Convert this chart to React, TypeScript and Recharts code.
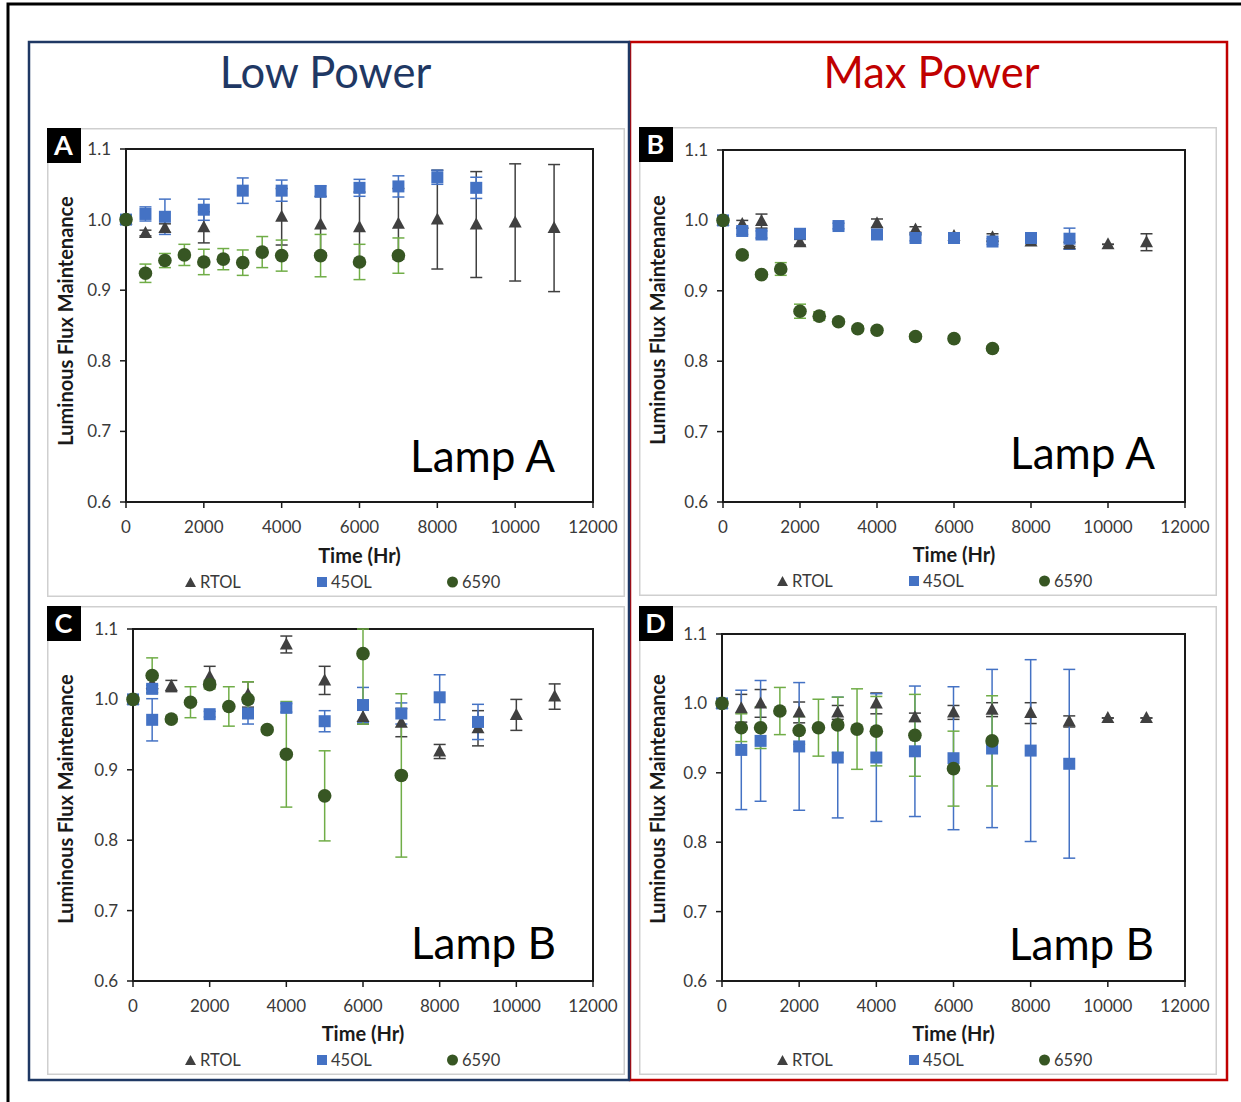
import React from 'react';
import { ScatterChart, Scatter, XAxis, YAxis, ErrorBar, ReferenceArea } from 'recharts';

const FONT = 'Lato, "Open Sans", sans-serif';
const INK = '#3a3a3a';
const AXIS = '#1a1a1a';
const GRAY = '#404040';
const BLUE = '#4472c4';
const GREEN = '#375623';
const GREEN_BAR = '#70ad47';

const Y_MIN = 0.6;
const Y_MAX = 1.1;
const xTicks = [0, 2000, 4000, 6000, 8000, 10000, 12000];
const yTicks = [0.6, 0.7, 0.8, 0.9, 1.0, 1.1];
const seriesNames = ['RTOL', '45OL', '6590'];

// A — Lamp A, low power
const aRtolT = [0, 500, 1000, 2000, 4000, 5000, 6000, 7000, 8000, 9000, 10000, 11000];
const aRtolV = [1.0, 0.981, 0.988, 0.989, 1.004, 0.993, 0.989, 0.994, 1.0, 0.993, 0.996, 0.988];
const aRtolE = [0, 0.004, 0.006, 0.022, 0.04, 0.04, 0.05, 0.05, 0.07, 0.075, 0.083, 0.09];
const a45T = [0, 500, 1000, 2000, 3000, 4000, 5000, 6000, 7000, 8000, 9000];
const a45V = [1.0, 1.008, 1.004, 1.014, 1.041, 1.041, 1.04, 1.045, 1.047, 1.06, 1.045];
const a45E = [0, 0.01, 0.025, 0.015, 0.018, 0.015, 0.008, 0.012, 0.015, 0.01, 0.015];
const a65T = [0, 500, 1000, 1500, 2000, 2500, 3000, 3500, 4000, 5000, 6000, 7000];
const a65V = [1.0, 0.924, 0.942, 0.95, 0.94, 0.944, 0.939, 0.954, 0.949, 0.949, 0.94, 0.949];
const a65E = [0, 0.013, 0.01, 0.015, 0.018, 0.015, 0.018, 0.022, 0.022, 0.03, 0.025, 0.025];

// B — Lamp A, max power
const bRtolT = [0, 500, 1000, 2000, 4000, 5000, 6000, 7000, 8000, 9000, 10000, 11000];
const bRtolV = [1.0, 0.995, 0.999, 0.969, 0.996, 0.987, 0.978, 0.976, 0.97, 0.966, 0.966, 0.969];
const bRtolE = [0, 0.005, 0.01, 0.004, 0.006, 0.004, 0.004, 0.005, 0.003, 0.003, 0, 0.012];
const b45T = [0, 500, 1000, 2000, 3000, 4000, 5000, 6000, 7000, 8000, 9000];
const b45V = [1.0, 0.985, 0.98, 0.981, 0.992, 0.98, 0.975, 0.975, 0.97, 0.975, 0.974];
const b45E = [0, 0.005, 0.005, 0.004, 0.004, 0.005, 0.004, 0.004, 0.004, 0.004, 0.015];
const b65T = [0, 500, 1000, 1500, 2000, 2500, 3000, 3500, 4000, 5000, 6000, 7000];
const b65V = [1.0, 0.951, 0.923, 0.931, 0.871, 0.864, 0.856, 0.846, 0.844, 0.835, 0.832, 0.818];
const b65E = [0, 0.004, 0.004, 0.009, 0.01, 0.006, 0.004, 0.004, 0.004, 0.004, 0.004, 0.003];

// C — Lamp B, low power
const cRtolT = [0, 500, 1000, 2000, 3000, 4000, 5000, 6000, 7000, 8000, 9000, 10000, 11000];
const cRtolV = [1.0, 1.022, 1.019, 1.032, 1.007, 1.078, 1.027, 0.975, 0.967, 0.926, 0.959, 0.978, 1.004];
const cRtolE = [0, 0.008, 0.008, 0.015, 0.018, 0.012, 0.02, 0.01, 0.02, 0.01, 0.025, 0.022, 0.018];
const c45T = [0, 500, 500, 2000, 3000, 4000, 5000, 6000, 7000, 8000, 9000];
const c45V = [1.0, 1.015, 0.971, 0.979, 0.98, 0.988, 0.969, 0.992, 0.98, 1.003, 0.968];
const c45E = [0, 0.005, 0.03, 0.004, 0.015, 0.006, 0.015, 0.025, 0.015, 0.032, 0.025];
const c65T = [0, 500, 1000, 1500, 2000, 2500, 3000, 3500, 4000, 5000, 6000, 7000];
const c65V = [1.0, 1.034, 0.972, 0.996, 1.021, 0.99, 1.0, 0.957, 0.922, 0.863, 1.065, 0.892];
const c65E = [0, 0.025, 0.004, 0.022, 0.006, 0.028, 0.025, 0.004, 0.075, 0.064, 0.1, 0.116];

// D — Lamp B, max power
const dRtolT = [0, 500, 1000, 2000, 3000, 4000, 5000, 6000, 7000, 8000, 9000, 10000, 11000];
const dRtolV = [1.0, 0.993, 1.0, 0.987, 0.987, 1.0, 0.98, 0.987, 0.991, 0.986, 0.974, 0.979, 0.979];
const dRtolE = [0, 0.02, 0.02, 0.015, 0.01, 0.015, 0.006, 0.01, 0.01, 0.015, 0.008, 0, 0];
const d45T = [0, 500, 1000, 2000, 3000, 4000, 5000, 6000, 7000, 8000, 9000];
const d45V = [1.0, 0.933, 0.946, 0.938, 0.922, 0.922, 0.931, 0.921, 0.935, 0.932, 0.913];
const d45E = [0, 0.086, 0.087, 0.092, 0.087, 0.092, 0.094, 0.103, 0.114, 0.131, 0.136];
const d65T = [0, 500, 1000, 1500, 2000, 2500, 3000, 3500, 4000, 5000, 6000, 7000];
const d65V = [1.0, 0.965, 0.965, 0.989, 0.961, 0.965, 0.969, 0.963, 0.96, 0.954, 0.906, 0.946];
const d65E = [0, 0.02, 0.03, 0.034, 0.02, 0.041, 0.04, 0.058, 0.05, 0.059, 0.054, 0.065];

// error bars are drawn unclipped, so cut them at the axis range: [below, above]
type Pt = { x: number; y: number; err: [number, number] };
const pts = (t: number[], v: number[], e: number[]): Pt[] =>
  t.map((x, i) => ({
    x,
    y: v[i],
    err: [Math.min(e[i], v[i] - Y_MIN), Math.min(e[i], Y_MAX - v[i])],
  }));

const Triangle = (p: any) => (
  <polygon points={`${p.cx},${p.cy - 7} ${p.cx - 6.5},${p.cy + 5} ${p.cx + 6.5},${p.cy + 5}`} fill={GRAY} />
);
const Square = (p: any) => <rect x={p.cx - 6} y={p.cy - 6} width={12} height={12} fill={BLUE} />;
const Dot = (p: any) => <circle cx={p.cx} cy={p.cy} r={6.8} fill={GREEN} />;

const PW = 578;
const PH = 469;

type Inset = { l: number; t: number; r: number; b: number };

interface PanelProps {
  letter: string;
  lamp: string;
  left: number;
  top: number;
  inset: Inset;
  lampRight: number;
  lampBase: number;
  rtol: Pt[];
  ol45: Pt[];
  s6590: Pt[];
}

const Panel: React.FC<PanelProps> = ({ letter, lamp, left, top, inset, lampRight, lampBase, rtol, ol45, s6590 }) => {
  const xAxisH = 30;
  const plotMidX = inset.l + (PW - inset.l - inset.r) / 2;
  const legendX = [138, 270, 400];
  return (
    <div style={{ position: 'absolute', left, top, width: PW, height: PH }}>
      <svg width={PW} height={PH} style={{ position: 'absolute', left: 0, top: 0 }} fontFamily={FONT}>
        <rect x={0.75} y={0.75} width={PW - 1.5} height={PH - 1.5} fill="#fff" stroke="#cfcfcf" strokeWidth={1.5} />
        <rect x={-1} y={-1} width={35} height={36} fill="#000" />
        <text x={16.5} y={27} textAnchor="middle" fill="#fff" fontSize={27} fontWeight={700}>{letter}</text>
        <text transform={`translate(18, 193) rotate(-90)`} textAnchor="middle" dominantBaseline="central" fontSize={20} fontWeight={700} fill="#1a1a1a">
          Luminous Flux Maintenance
        </text>
        <text x={plotMidX} y={435} textAnchor="middle" fontSize={20} fontWeight={700} fill="#1a1a1a">Time (Hr)</text>
        <text x={lampRight} y={lampBase} textAnchor="end" fontSize={44} fill="#000">{lamp}</text>
        <g fontSize={16.5} fill={INK}>
          <polygon points={`${legendX[0] + 5.5},${449} ${legendX[0]},${459} ${legendX[0] + 11},${459}`} fill={GRAY} />
          <text x={legendX[0] + 15} y={460}>{seriesNames[0]}</text>
          <rect x={legendX[1]} y={449} width={10} height={10} fill={BLUE} />
          <text x={legendX[1] + 14} y={460}>{seriesNames[1]}</text>
          <circle cx={legendX[2] + 5.5} cy={454} r={5.5} fill={GREEN} />
          <text x={legendX[2] + 15} y={460}>{seriesNames[2]}</text>
        </g>
      </svg>
      <ScatterChart
        width={PW}
        height={PH}
        margin={{ top: inset.t, right: inset.r, bottom: inset.b - xAxisH, left: 0 }}
        style={{ position: 'absolute', left: 0, top: 0 }}
      >
        <ReferenceArea x1={0} x2={12000} y1={Y_MIN} y2={Y_MAX} fill="none" stroke={AXIS} strokeWidth={2} ifOverflow="visible" />
        <XAxis
          dataKey="x"
          type="number"
          domain={[0, 12000]}
          ticks={xTicks}
          interval={0}
          height={xAxisH}
          tickSize={6}
          tickMargin={13}
          axisLine={{ stroke: AXIS, strokeWidth: 2 }}
          tickLine={{ stroke: AXIS, strokeWidth: 1.5 }}
          tick={{ fill: INK, fontSize: 17, fontFamily: FONT }}
        />
        <YAxis
          dataKey="y"
          type="number"
          domain={[Y_MIN, Y_MAX]}
          ticks={yTicks}
          interval={0}
          width={inset.l}
          tickSize={6}
          tickMargin={9}
          allowDataOverflow
          tickFormatter={(v: number) => v.toFixed(1)}
          axisLine={{ stroke: AXIS, strokeWidth: 2 }}
          tickLine={{ stroke: AXIS, strokeWidth: 1.5 }}
          tick={{ fill: INK, fontSize: 17, fontFamily: FONT }}
        />
        <Scatter name="RTOL" data={rtol} shape={Triangle} isAnimationActive={false}>
          <ErrorBar dataKey="err" direction="y" width={6} stroke={GRAY} strokeWidth={1.5} />
        </Scatter>
        <Scatter name="45OL" data={ol45} shape={Square} isAnimationActive={false}>
          <ErrorBar dataKey="err" direction="y" width={6} stroke={BLUE} strokeWidth={1.5} />
        </Scatter>
        <Scatter name="6590" data={s6590} shape={Dot} isAnimationActive={false}>
          <ErrorBar dataKey="err" direction="y" width={6} stroke={GREEN_BAR} strokeWidth={1.5} />
        </Scatter>
      </ScatterChart>
    </div>
  );
};

const App: React.FC = () => (
  <div style={{ position: 'absolute', left: 0, top: 0, width: 1241, height: 1102, background: '#fff', overflow: 'hidden' }}>
    <svg width={1241} height={1102} style={{ position: 'absolute', left: 0, top: 0 }} fontFamily={FONT}>
      <path d="M8 1102 V4 H1241" fill="none" stroke="#000" strokeWidth={3} />
      <rect x={630} y={42} width={597} height={1038} fill="none" stroke="#c00000" strokeWidth={2.5} />
      <rect x={29} y={42} width={600} height={1038} fill="none" stroke="#1f3864" strokeWidth={2.5} />
      <text x={325.5} y={88} textAnchor="middle" fontSize={43.5} fill="#1f3864">Low Power</text>
      <text x={931.5} y={88} textAnchor="middle" fontSize={43.5} fill="#c00000">Max Power</text>
    </svg>
    <Panel letter="A" lamp="Lamp A" left={47} top={128} inset={{ l: 79, t: 21, r: 32, b: 95 }} lampRight={508} lampBase={344}
      rtol={pts(aRtolT, aRtolV, aRtolE)} ol45={pts(a45T, a45V, a45E)} s6590={pts(a65T, a65V, a65E)} />
    <Panel letter="B" lamp="Lamp A" left={639} top={127} inset={{ l: 84, t: 23, r: 32, b: 94 }} lampRight={516} lampBase={342}
      rtol={pts(bRtolT, bRtolV, bRtolE)} ol45={pts(b45T, b45V, b45E)} s6590={pts(b65T, b65V, b65E)} />
    <Panel letter="C" lamp="Lamp B" left={47} top={606} inset={{ l: 86, t: 23, r: 32, b: 94 }} lampRight={509} lampBase={353}
      rtol={pts(cRtolT, cRtolV, cRtolE)} ol45={pts(c45T, c45V, c45E)} s6590={pts(c65T, c65V, c65E)} />
    <Panel letter="D" lamp="Lamp B" left={639} top={606} inset={{ l: 83, t: 28, r: 32, b: 94 }} lampRight={515} lampBase={354}
      rtol={pts(dRtolT, dRtolV, dRtolE)} ol45={pts(d45T, d45V, d45E)} s6590={pts(d65T, d65V, d65E)} />
  </div>
);

export default App;
